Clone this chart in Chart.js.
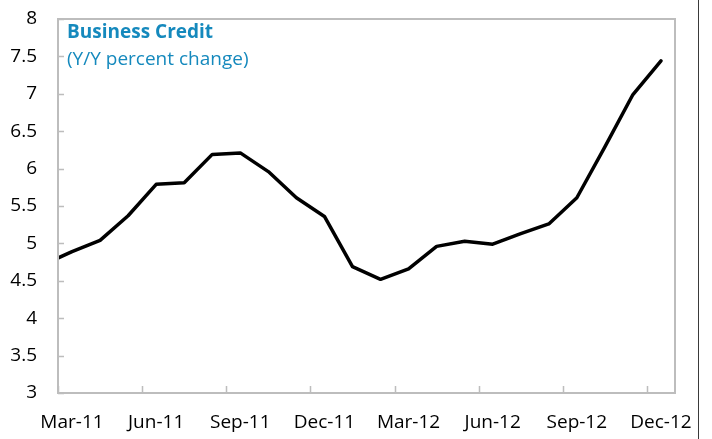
<!DOCTYPE html>
<html>
<head>
<meta charset="utf-8">
<script src="https://cdn.jsdelivr.net/npm/chart.js@4"></script>
<style>
  html, body { margin: 0; padding: 0; background: #fff; }
  #wrap { width: 712px; height: 439px; }
</style>
</head>
<body>
<div id="wrap"><canvas id="chart" width="712" height="439"></canvas></div>
<script>
// monthly y/y growth, observations sit mid-month
const months = ['Feb-11', 'Mar-11', 'Apr-11', 'May-11', 'Jun-11', 'Jul-11', 'Aug-11', 'Sep-11',
  'Oct-11', 'Nov-11', 'Dec-11', 'Jan-12', 'Feb-12', 'Mar-12', 'Apr-12', 'May-12', 'Jun-12',
  'Jul-12', 'Aug-12', 'Sep-12', 'Oct-12', 'Nov-12', 'Dec-12'];
const credito = [4.72, 4.89, 5.04, 5.37, 5.79, 5.81, 6.19, 6.21, 5.96, 5.61, 5.36, 4.69,
  4.52, 4.66, 4.96, 5.03, 4.99, 5.13, 5.26, 5.61, 6.29, 6.99, 7.44];
const tickLabels = ['Mar-11', 'Jun-11', 'Sep-11', 'Dec-11', 'Mar-12', 'Jun-12', 'Sep-12', 'Dec-12'];

const FONT = '"Open Sans", "Noto Sans", sans-serif';
const AZUL = '#1589bd';
const GRIS = '#bdbdbd';

// x = months since start of Mar-11, point placed at middle of its month
const puntos = credito.map((v, i) => ({ x: i - 0.5, y: v }));

// frame, inward tick marks, titles and the outer rule on the right
const marcoPlugin = {
  id: 'marco',
  afterDraw: (chart) => {
    const { ctx, chartArea: { left, top, right, bottom } } = chart;
    const xs = chart.scales.x;
    const ys = chart.scales.y;
    ctx.save();
    ctx.strokeStyle = GRIS;
    ctx.lineWidth = 2;
    ctx.strokeRect(left, top, right - left, bottom - top);

    ctx.lineWidth = 1.5;
    ctx.beginPath();
    ys.ticks.forEach(t => {
      const py = Math.round(ys.getPixelForValue(t.value)) + 0.5;
      ctx.moveTo(left, py);
      ctx.lineTo(left + 6, py);
    });
    xs.ticks.forEach(t => {
      const px = Math.round(xs.getPixelForValue(t.value)) + 0.5;
      ctx.moveTo(px, bottom);
      ctx.lineTo(px, bottom - 7);
    });
    ctx.stroke();

    ctx.strokeStyle = '#3a3a3a';
    ctx.lineWidth = 1;
    ctx.beginPath();
    ctx.moveTo(698.5, 0);
    ctx.lineTo(698.5, chart.height);
    ctx.stroke();

    ctx.fillStyle = AZUL;
    ctx.textAlign = 'left';
    ctx.textBaseline = 'middle';
    ctx.font = `bold 19px ${FONT}`;
    ctx.fillText('Business Credit', left + 9, 33);
    ctx.font = `19px ${FONT}`;
    ctx.fillText('(Y/Y percent change)', left + 9, 60);
    ctx.restore();
  }
};

new Chart(document.getElementById('chart'), {
  type: 'line',
  data: {
    datasets: [{
      data: puntos,
      borderColor: '#000',
      borderWidth: 3.5,
      borderJoinStyle: 'round',
      borderCapStyle: 'round',
      pointRadius: 0,
      tension: 0
    }]
  },
  plugins: [marcoPlugin],
  options: {
    responsive: false,
    animation: false,
    layout: { padding: { top: 19, right: 37, left: 0, bottom: 0 } },
    plugins: {
      legend: { display: false },
      tooltip: { enabled: false }
    },
    scales: {
      x: {
        type: 'linear',
        min: 0,
        max: 22,
        grid: { display: false, drawTicks: false },
        border: { display: false },
        afterFit: (scale) => { scale.height = 46; },
        ticks: {
          stepSize: 3,
          includeBounds: false,
          autoSkip: false,
          maxRotation: 0,
          labelOffset: 14,
          padding: 18,
          color: '#000',
          font: { family: FONT, size: 19 },
          callback: (v) => tickLabels[v / 3]
        }
      },
      y: {
        min: 3,
        max: 8,
        grid: { display: false, drawTicks: false },
        border: { display: false },
        // labels may overhang the plot, the frame sits where the padding says
        afterFit: (scale) => {
          scale.width = 58;
          scale.paddingTop = 0;
          scale.paddingBottom = 0;
        },
        ticks: {
          stepSize: 0.5,
          padding: 21,
          color: '#000',
          font: { family: FONT, size: 19 },
          callback: (v) => String(v)
        }
      }
    }
  }
});
</script>
</body>
</html>
